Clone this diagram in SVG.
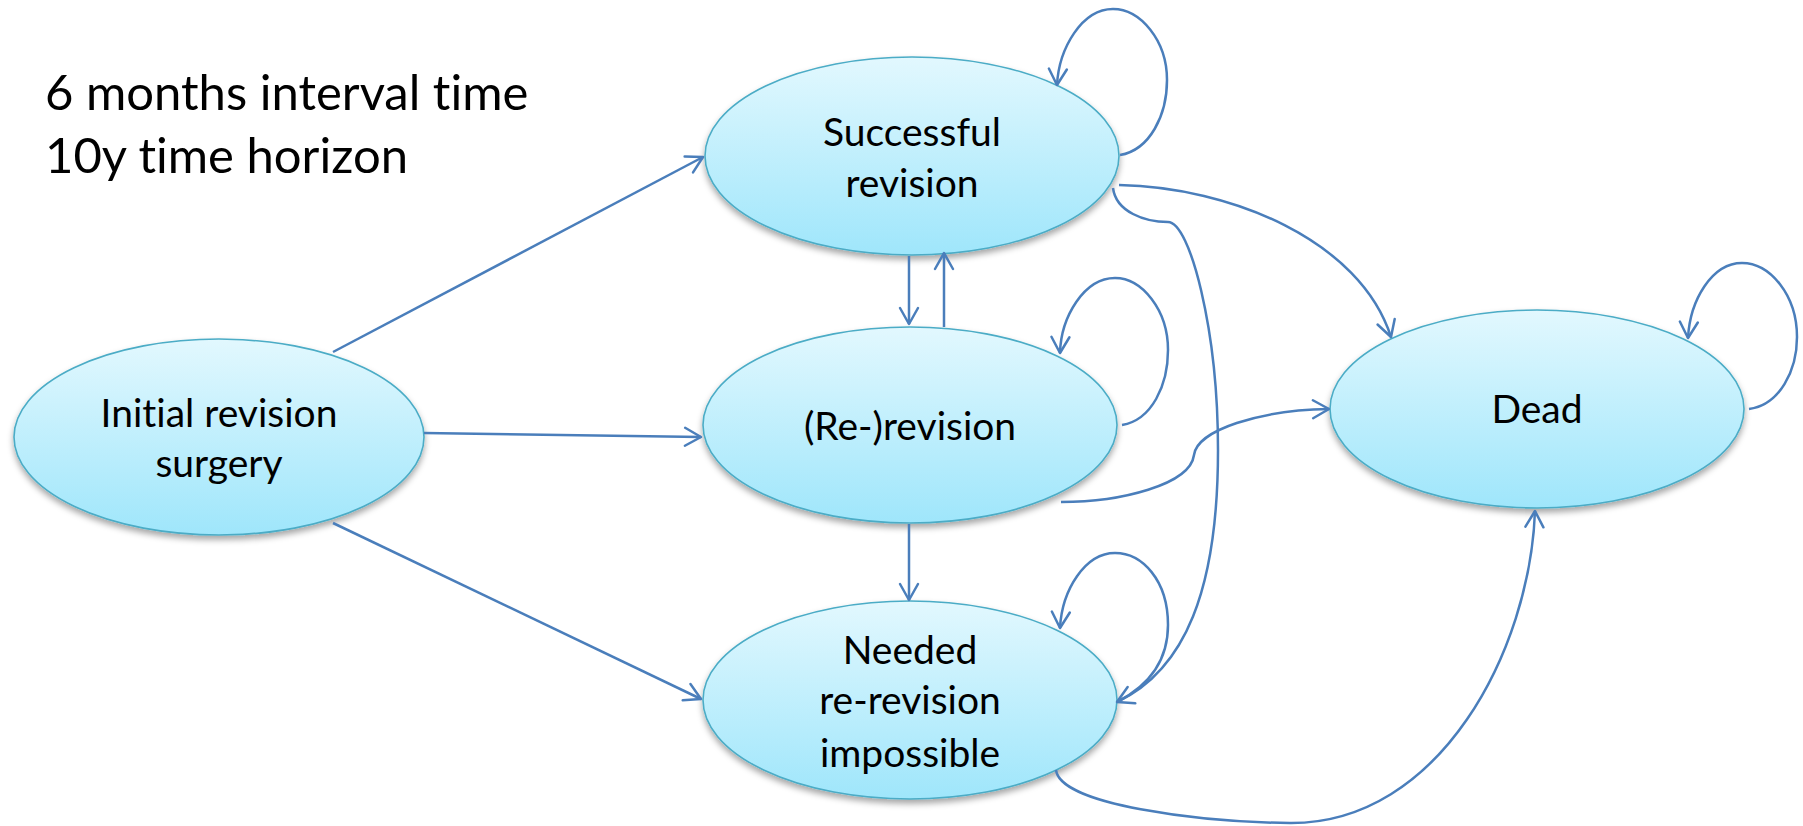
<svg xmlns="http://www.w3.org/2000/svg" width="1803" height="826" viewBox="0 0 1803 826">
<defs>
<linearGradient id="g" x1="0" y1="0" x2="0" y2="1">
<stop offset="0" stop-color="#E2F8FE"/>
<stop offset="1" stop-color="#9FE6FB"/>
</linearGradient>
<filter id="sh" x="-10%" y="-10%" width="120%" height="130%">
<feDropShadow dx="0" dy="4" stdDeviation="3" flood-color="#000" flood-opacity="0.35"/>
</filter>
<marker id="ah" markerUnits="userSpaceOnUse" markerWidth="30" markerHeight="30" viewBox="-20 -15 30 30" refX="0" refY="0" orient="auto">
<path d="M-16,-9 L0,0 L-16,9" fill="none" stroke="#4A7EBB" stroke-width="2.5" stroke-linecap="round" stroke-linejoin="round"/>
</marker>
<style>
.node ellipse{fill:url(#g);stroke:#4BACC6;stroke-width:1.6;filter:url(#sh)}
.node text,.title{font-family:Lato,"Open Sans","Liberation Sans",sans-serif;fill:#000;font-variant-ligatures:none}
.node text{font-size:39px;text-anchor:middle}
.title{font-size:49px}
.conn path,.conn line{fill:none;stroke:#4A7EBB;stroke-width:2.5}
.arr{marker-end:url(#ah)}
</style>
</defs>
<rect width="1803" height="826" fill="#fff"/>
<g id="title">
<text class="title" x="45" y="110">6 months interval time</text>
<text class="title" x="45" y="173">10y time horizon</text>
</g>
<g id="node-initial" class="node">
<ellipse cx="219" cy="437" rx="205" ry="98"/>
<text x="219" y="427">Initial revision</text>
<text x="219" y="477">surgery</text>
</g>
<g id="node-successful" class="node">
<ellipse cx="912" cy="156" rx="207" ry="99"/>
<text x="912" y="146">Successful</text>
<text x="912" y="197">revision</text>
</g>
<g id="node-rerevision" class="node">
<ellipse cx="910" cy="425" rx="207" ry="98"/>
<text x="910" y="440">(Re-)revision</text>
</g>
<g id="node-needed" class="node">
<ellipse cx="910" cy="700" rx="207" ry="99"/>
<text x="910" y="664">Needed</text>
<text x="910" y="714">re-revision</text>
<text x="910" y="767">impossible</text>
</g>
<g id="node-dead" class="node">
<ellipse cx="1537" cy="409" rx="207" ry="99"/>
<text x="1537" y="423">Dead</text>
</g>
<g id="connectors" class="conn">
<line class="arr" x1="333" y1="352" x2="703" y2="157"/>
<line class="arr" x1="424" y1="433" x2="701" y2="437"/>
<line class="arr" x1="333" y1="523" x2="701" y2="699"/>
<line class="arr" x1="909" y1="256" x2="909" y2="324"/>
<line class="arr" x1="944" y1="327" x2="944" y2="253"/>
<line class="arr" x1="909" y1="524" x2="909" y2="600"/>
<path class="arr" d="M1119,185 C1230,187 1360,240 1391,337"/>
<path class="arr" d="M1113,188 C1116,212 1145,222 1168,222 C1190,222 1218,330 1218,450 C1218,590 1185,670 1117,702"/>
<path class="arr" d="M1061,502 C1120,502 1190,485 1194,455 C1197,430 1260,410 1329,409"/>
<path class="arr" d="M1056,770 C1060,805 1200,822 1290,823 C1440,824 1530,650 1535,511"/>
<path class="arr" d="M1120,155 C1150,150 1167,115 1167,80 C1167,40 1140,9 1113,9 C1082,9 1059,48 1057,85"/>
<path class="arr" d="M1122,425 C1152,420 1168,385 1168,350 C1168,310 1142,278 1115,278 C1084,278 1061,317 1060,353"/>
<path class="arr" d="M1117,702 C1150,685 1168,660 1168,625 C1168,580 1142,553 1115,553 C1085,553 1062,590 1060,628"/>
<path class="arr" d="M1749,409 C1780,405 1797,370 1797,337 C1797,295 1770,263 1742,263 C1712,263 1690,300 1688,338"/>
</g>
</svg>
